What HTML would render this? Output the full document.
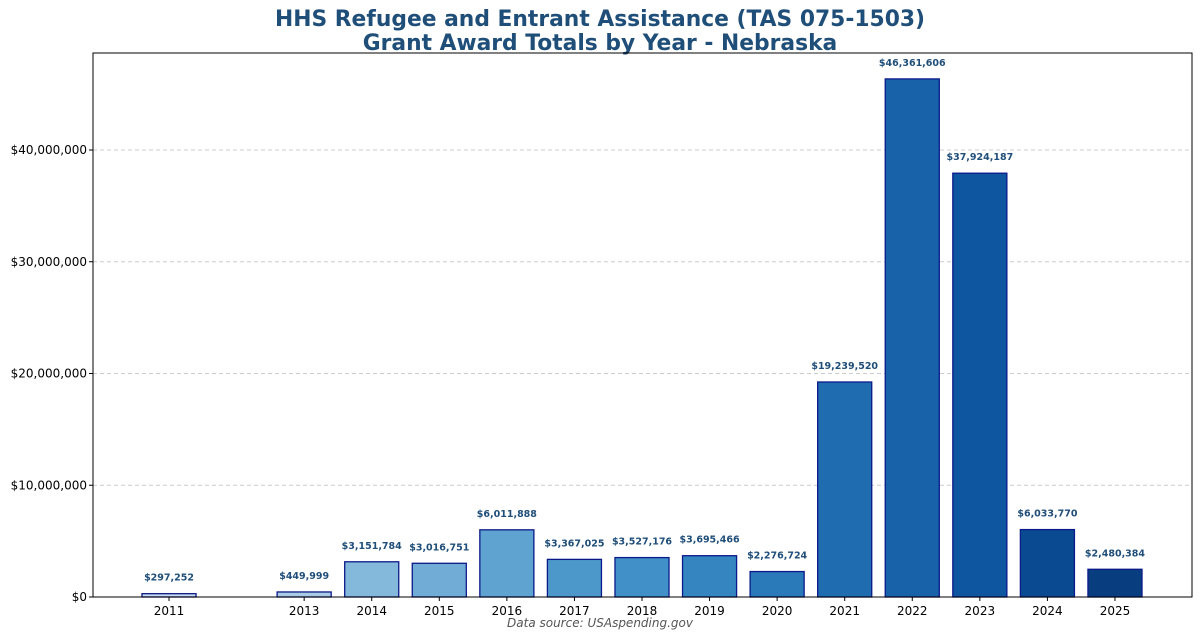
<!DOCTYPE html>
<html><head><meta charset="utf-8"><style>
body{margin:0;background:#fff;font-family:"DejaVu Sans","Liberation Sans",sans-serif;}
svg text{font-family:"DejaVu Sans","Liberation Sans",sans-serif;}
</style></head><body>
<svg id="chart" width="1200" height="638" viewBox="0 0 1200 638">
<text x="600" y="26" text-anchor="middle" font-size="21.8" font-weight="bold" fill="#1f4e79">HHS Refugee and Entrant Assistance (TAS 075-1503)</text>
<text x="600" y="50" text-anchor="middle" font-size="21.8" font-weight="bold" fill="#1f4e79">Grant Award Totals by Year - Nebraska</text>
<g id="grid"></g><g id="bars"></g><g id="axes"></g>
<rect x="93" y="53" width="1099" height="544" fill="none" stroke="#000" stroke-width="1"/>
<text x="600" y="627" text-anchor="middle" font-size="12" font-style="italic" fill="#555">Data source: USAspending.gov</text>
</svg>
<script>
const years=[2011,2013,2014,2015,2016,2017,2018,2019,2020,2021,2022,2023,2024,2025];
const values=[297252,449999,3151784,3016751,6011888,3367025,3527176,3695466,2276724,19239520,46361606,37924187,6033770,2480384];
const colors=["#c6dbef","#a9cce4","#84b9db","#70acd6","#5fa3d1","#4d98cb","#4190c7","#3585c0","#2a79b8","#1f6db0","#1862a9","#0e56a0","#0a4a90","#083d7f"];
const yTicks=[0,10000000,20000000,30000000,40000000];
const yTickLabels=["$0","$10,000,000","$20,000,000","$30,000,000","$40,000,000"];
const NS="http://www.w3.org/2000/svg";
const X0=93,X1=1192,xmin=2009.875,xmax=2026.14,Y0=597;
const xs=v=>X0+(v-xmin)/(xmax-xmin)*(X1-X0);
const ys=v=>Y0-v/10000000*111.75;
const bw=0.8*(X1-X0)/(xmax-xmin);
function mk(t,a,p){const e=document.createElementNS(NS,t);for(const k in a)e.setAttribute(k,a[k]);p.appendChild(e);return e;}
const grid=document.getElementById('grid'),bars=document.getElementById('bars'),axes=document.getElementById('axes');
const fmt=v=>"$"+v.toLocaleString('en-US');
yTicks.forEach((t,i)=>{
 if(t>0){const g=mk('line',{x1:X0,x2:X1,y1:ys(t),y2:ys(t),stroke:'#ccc','stroke-dasharray':'4,3'},grid);
 
 }
 const tk=mk('line',{x1:X0-4,x2:X0,y1:ys(t),y2:ys(t),stroke:'#000'},axes);
 
 
 const tx=mk('text',{x:X0-6,y:ys(t)+4,'text-anchor':'end','font-size':12,fill:'#000'},axes);
 tx.textContent=yTickLabels[i];
 
 
});
years.forEach((y,i)=>{
 const v=values[i],x=xs(y);
 const r=mk('rect',{x:x-bw/2,y:ys(v),width:bw,height:Y0-ys(v),fill:colors[i],stroke:'#0b1a8a','stroke-width':1.3},bars);
 
 
 const l=mk('text',{x:x,y:ys(v)-13,'text-anchor':'middle','font-size':9.5,'font-weight':'bold',fill:'#1f4e79'},bars);
 l.textContent=fmt(v);
 
 
 const tk=mk('line',{x1:x,x2:x,y1:Y0,y2:Y0+4,stroke:'#000'},axes);
 
 
 const t=mk('text',{x:x,y:Y0+18,'text-anchor':'middle','font-size':12,fill:'#000'},axes);
 t.textContent=y;
 
 
});
</script>
</body></html>
